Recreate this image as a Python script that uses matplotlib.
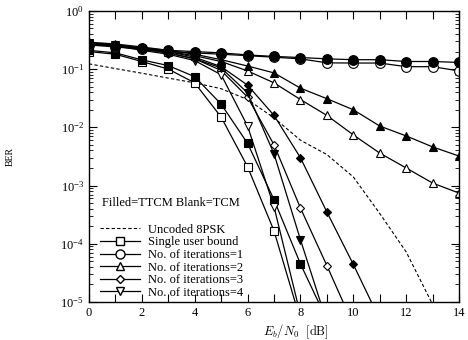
import matplotlib
matplotlib.use("Agg")
import matplotlib.pyplot as plt
from matplotlib.lines import Line2D
from matplotlib.ticker import MultipleLocator, LogLocator, NullFormatter
import numpy as np

plt.rcParams['font.family'] = ['Liberation Serif', 'DejaVu Serif']
plt.rcParams['mathtext.fontset'] = 'cm'

# Eb/N0 [dB]
ebn0 = np.arange(0, 15)

uncoded = [0.123, 0.102, 0.085, 0.070, 0.058, 0.046, 0.030, 0.0145, 0.006,
           0.0034, 0.0014, 3.3e-4, 7.2e-5, 9e-6]

bound_ttcm = [0.21, 0.19, 0.144, 0.115, 0.074, 0.025, 0.0053, 5.7e-4, 4.5e-5, 4.9e-6]
bound_tcm = [0.20, 0.18, 0.135, 0.10, 0.058, 0.015, 0.0021, 1.66e-4, 4.9e-6]

it1_ttcm = [0.27, 0.25, 0.23, 0.21, 0.20, 0.19, 0.175, 0.165, 0.158, 0.15,
            0.145, 0.145, 0.135, 0.135, 0.13]
it1_tcm = [0.26, 0.24, 0.22, 0.20, 0.19, 0.18, 0.17, 0.16, 0.15, 0.128,
           0.127, 0.127, 0.11, 0.11, 0.093]

it2_ttcm = [0.29, 0.27, 0.24, 0.21, 0.18, 0.145, 0.113, 0.086, 0.047, 0.031,
            0.020, 0.0105, 0.0071, 0.0046, 0.0032]
it2_tcm = [0.28, 0.26, 0.23, 0.20, 0.17, 0.135, 0.093, 0.058, 0.030, 0.016,
           0.0074, 0.0036, 0.0020, 0.0011, 7.4e-4]

it3_ttcm = [0.28, 0.26, 0.23, 0.20, 0.16, 0.11, 0.053, 0.016, 0.003, 3.5e-4,
            4.4e-5, 5e-6]
it3_tcm = [0.27, 0.25, 0.22, 0.19, 0.15, 0.095, 0.033, 0.005, 4.1e-4, 4.2e-5, 4e-6]

it4_ttcm = [0.28, 0.26, 0.22, 0.19, 0.15, 0.105, 0.039, 0.0035, 1.17e-4, 4.5e-6]
it4_tcm = [0.27, 0.25, 0.21, 0.18, 0.14, 0.08, 0.0105, 4.3e-4, 6e-6]

fig = plt.figure(figsize=(4.68, 3.40), dpi=100)
ax = fig.add_axes([0.190, 0.112, 0.791, 0.856])

ax.semilogy(ebn0[:len(uncoded)], uncoded, 'k', linestyle=(0, (3, 2)), linewidth=0.8)

series = [
    (bound_ttcm, bound_tcm, 's', 6),
    (it1_ttcm, it1_tcm, 'o', 7),
    (it2_ttcm, it2_tcm, '^', 6),
    (it3_ttcm, it3_tcm, 'D', 4.5),
    (it4_ttcm, it4_tcm, 'v', 6),
]
for filled, blank, mk, ms in series:
    ax.semilogy(ebn0[:len(blank)], blank, 'k-', marker=mk, markersize=ms,
                markerfacecolor='white', markeredgewidth=0.8, linewidth=0.9)
    ax.semilogy(ebn0[:len(filled)], filled, 'k-', marker=mk, markersize=ms,
                markerfacecolor='black', markeredgewidth=0.8, linewidth=0.9)

ax.set_xlim(0, 14)
ax.set_ylim(1e-5, 1)
ax.xaxis.set_major_locator(MultipleLocator(2))
ax.xaxis.set_minor_locator(MultipleLocator(1))
ax.yaxis.set_major_locator(LogLocator(base=10, numticks=10))
ax.yaxis.set_minor_locator(LogLocator(base=10, subs=np.arange(2, 10), numticks=20))
ax.yaxis.set_minor_formatter(NullFormatter())
ax.tick_params(which='both', direction='in', top=True, right=True, labelsize=9)
ax.tick_params(which='major', length=6, width=0.8)
ax.tick_params(axis='x', which='minor', length=6, width=0.8)
ax.tick_params(axis='y', which='minor', length=3, width=0.6)
for s in ax.spines.values():
    s.set_linewidth(1.0)

ax.set_xlabel(r'$E_b/N_0\ \ \mathrm{[dB]}$', fontsize=9)
ax.xaxis.set_label_coords(0.56, -0.07)
ax.set_ylabel('BER', fontsize=7)
ax.yaxis.set_label_coords(-0.2, 0.5)

ax.text(0.035, 0.34, 'Filled=TTCM Blank=TCM', transform=ax.transAxes,
        fontsize=9, va='center', ha='left')

handles = [
    Line2D([], [], color='k', linestyle=(0, (3, 2)), linewidth=0.8),
    Line2D([], [], color='k', marker='s', markersize=6, markerfacecolor='white', linewidth=0.9),
    Line2D([], [], color='k', marker='o', markersize=6.5, markerfacecolor='white', linewidth=0.9),
    Line2D([], [], color='k', marker='^', markersize=6, markerfacecolor='white', linewidth=0.9),
    Line2D([], [], color='k', marker='D', markersize=4.5, markerfacecolor='white', linewidth=0.9),
    Line2D([], [], color='k', marker='v', markersize=6, markerfacecolor='white', linewidth=0.9),
]
labels = ['Uncoded 8PSK', 'Single user bound', 'No. of iterations=1',
          'No. of iterations=2', 'No. of iterations=3', 'No. of iterations=4']
ax.legend(handles, labels, loc='lower left', bbox_to_anchor=(0.01, -0.015),
          frameon=False, fontsize=9, handlelength=3.2, handletextpad=0.6,
          labelspacing=0.05, borderaxespad=0.2)

fig.savefig('out.png', dpi=100)
